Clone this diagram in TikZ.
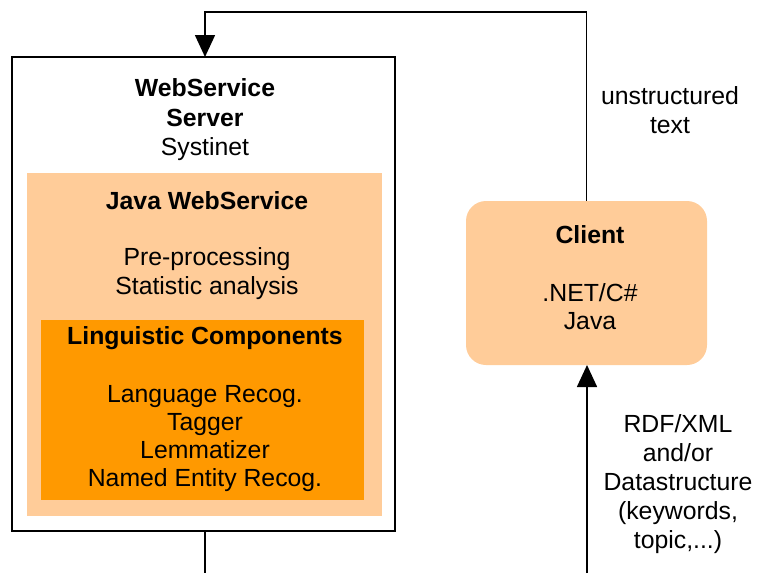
\documentclass[tikz,border=0pt]{standalone}
\usepackage{fontspec}
\setmainfont{Liberation Sans}
\usetikzlibrary{arrows.meta}
\definecolor{lightor}{HTML}{FFCC99}
\definecolor{darkor}{HTML}{FF9900}
\begin{document}
\begin{tikzpicture}[x=1pt,y=-1pt,
  box/.style={draw=none,inner sep=0pt,outer sep=0pt},
  txt/.style={inner sep=0pt,align=center,font=\fontsize{24.8}{29}\selectfont},
  btxt/.style={txt,font=\fontsize{24.8}{30}\selectfont\bfseries},
  conn/.style={line width=1.6pt,black},
  arr/.style={conn,-{Triangle[length=22pt,width=20pt]}}]
\useasboundingbox (0,0) rectangle (757,573);
% boxes
\node[box,draw=black,line width=1.6pt,fill=white,minimum width=383pt,minimum height=474pt] (server) at (203.5,294) {};
\node[box,fill=lightor,minimum width=355pt,minimum height=343pt] (java) at (204.5,344.5) {};
\node[box,fill=darkor,minimum width=323pt,minimum height=180pt] (ling) at (202.5,410) {};
\node[box,fill=lightor,rounded corners=20pt,minimum width=241pt,minimum height=164pt] (client) at (586.5,283) {};
% texts
\node[btxt] (t1) at (205,103) {WebService\\Server};
\node[txt] (t2) at (205,149) {Systinet};
\node[btxt] (t3) at (207,201) {Java WebService};
\node[txt] (t4) at (207,274) {Pre-processing\\Statistic analysis};
\node[btxt] (t5) at (205,338) {Linguistic Components};
\node[txt,font=\fontsize{24.8}{28}\selectfont] (t6) at (205,439) {Language Recog.\\Tagger\\Lemmatizer\\Named Entity Recog.};
\node[btxt] (t7) at (590,235) {Client};
\node[txt,font=\fontsize{24.8}{28}\selectfont] (t8) at (590,307) {.NET/C\#\\Java};
\node[txt] (t9) at (670,110) {unstructured\\text};
\node[txt] (t10) at (678,484) {RDF/XML\\and/or\\Datastructure\\(keywords,\\topic,...)};
% connectors
\coordinate (top1) at (205,12);
\coordinate (bot1) at (205,573);
\coordinate (bot2) at (587,573);
\draw[arr] (client.north) |- (top1) -- (top1 |- server.north);
\draw[conn] (server.south -| bot1) -- (bot1);
\draw[arr] (bot2) -- (bot2 |- client.south);
\end{tikzpicture}
\end{document}
